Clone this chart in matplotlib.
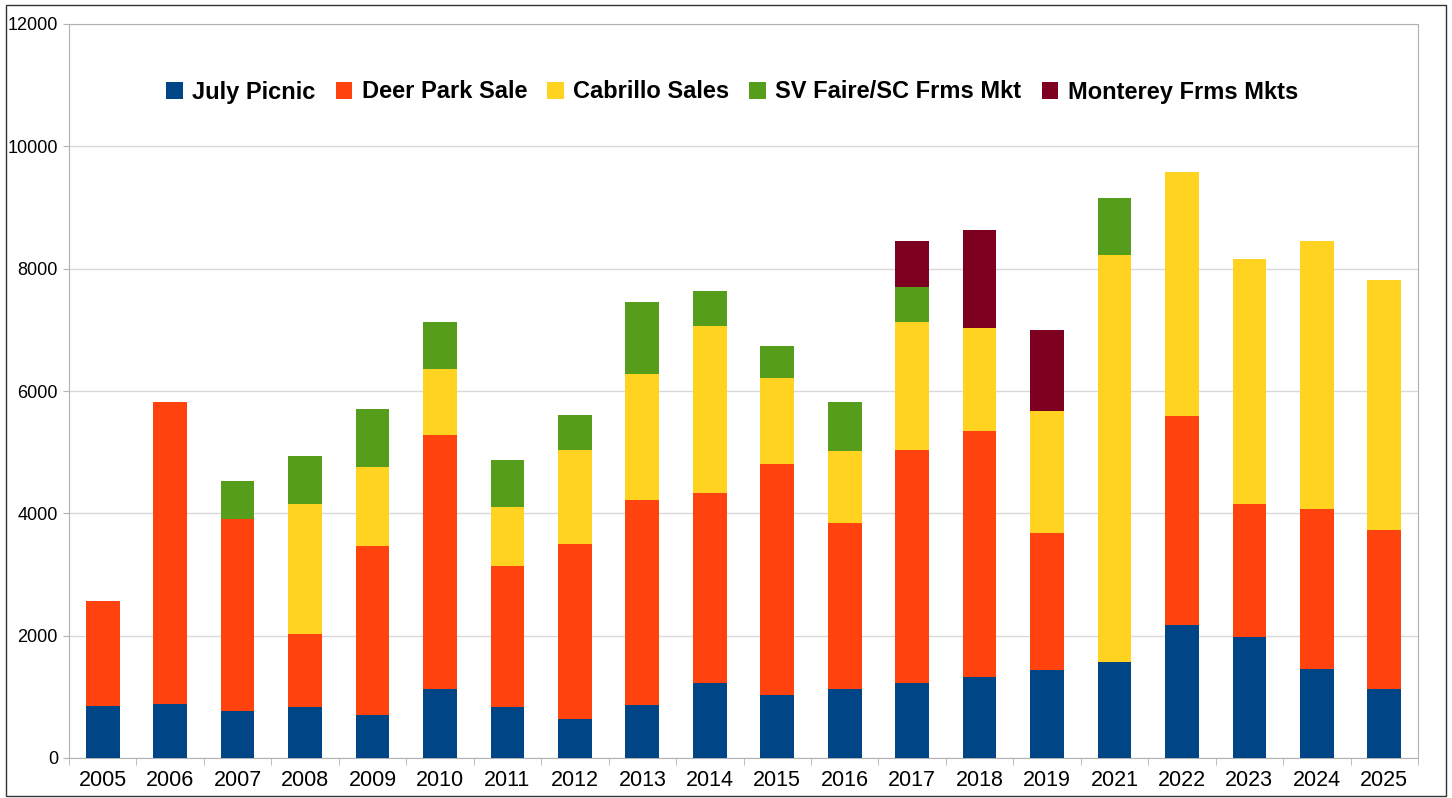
import matplotlib.pyplot as plt
import numpy as np
from matplotlib.patches import Rectangle

plt.rcParams['font.family'] = ['Liberation Sans', 'DejaVu Sans']

# data
years = ['2005', '2006', '2007', '2008', '2009', '2010', '2011', '2012', '2013', '2014',
         '2015', '2016', '2017', '2018', '2019', '2021', '2022', '2023', '2024', '2025']
july_picnic = [850, 880, 770, 830, 710, 1130, 835, 645, 865, 1220,
               1025, 1125, 1220, 1320, 1440, 1570, 2175, 1985, 1460, 1120]
deer_park = [1710, 4940, 3140, 1195, 2755, 4150, 2305, 2855, 3355, 3110,
             3780, 2710, 3810, 4025, 2235, 0, 3420, 2170, 2610, 2615]
cabrillo = [0, 0, 0, 2135, 1285, 1085, 970, 1530, 2050, 2740,
            1400, 1185, 2095, 1680, 2000, 6655, 3980, 4005, 4375, 4085]
sv_faire = [0, 0, 625, 780, 960, 760, 755, 580, 1190, 560,
            530, 795, 575, 0, 0, 925, 0, 0, 0, 0]
monterey = [0, 0, 0, 0, 0, 0, 0, 0, 0, 0,
            0, 0, 760, 1605, 1325, 0, 0, 0, 0, 0]

series = [
    ('July Picnic', july_picnic, '#004586'),
    ('Deer Park Sale', deer_park, '#FF420E'),
    ('Cabrillo Sales', cabrillo, '#FFD320'),
    ('SV Faire/SC Frms Mkt', sv_faire, '#579D1C'),
    ('Monterey Frms Mkts', monterey, '#7E0021'),
]

fig = plt.figure(figsize=(14.52, 7.98), dpi=100)
ax = fig.add_axes([69 / 1452, 1 - 758 / 798, (1418 - 69) / 1452, (758 - 24) / 798])

x = np.arange(len(years))
bottom = np.zeros(len(years))
for name, vals, col in series:
    vals = np.array(vals, dtype=float)
    ax.bar(x, vals, bottom=bottom, width=0.5, color=col, label=name, zorder=3)
    bottom += vals

ax.set_xlim(-0.5, len(years) - 0.5)
ax.set_ylim(0, 12000)
ax.set_yticks(np.arange(0, 12001, 2000))
ax.set_xticks(x)
ax.set_xticklabels(years, fontsize=15.5)
ax.set_xticks(np.arange(-0.5, len(years), 1), minor=True)
ax.tick_params(axis='x', which='major', length=0, pad=9)
ax.tick_params(axis='x', which='minor', length=5, color='#b3b3b3')
ax.tick_params(axis='y', labelsize=13, length=4, color='#b3b3b3', pad=4)
ax.grid(axis='y', color='#d9d9d9', linewidth=1, zorder=0)
for s in ax.spines.values():
    s.set_color('#b3b3b3')

fig.legend(loc='center', bbox_to_anchor=(732 / 1452, 1 - 92 / 798), ncol=5, frameon=False,
           prop={'weight': 'bold', 'size': 17}, handlelength=0.7, handleheight=0.7,
           handletextpad=0.4, columnspacing=0.85)

# outer frame
fig.patches.append(Rectangle((6 / 1452, 2 / 798), 1440 / 1452, 791 / 798, transform=fig.transFigure,
                             fill=False, edgecolor='#333333', linewidth=1))

fig.savefig('out.png', dpi=100)
